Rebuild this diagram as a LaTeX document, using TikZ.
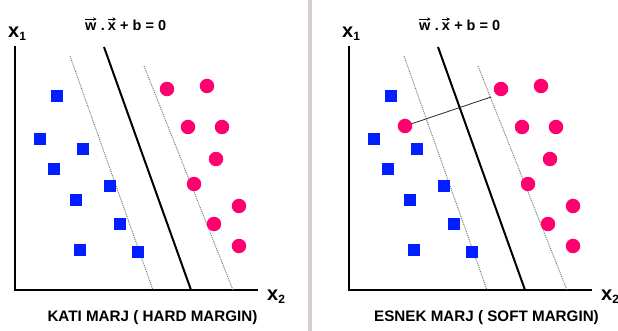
\documentclass[tikz,border=0pt]{standalone}
\usepackage{fontspec}
\setmainfont{Liberation Sans}
\usetikzlibrary{arrows.meta}
\definecolor{sqblue}{RGB}{0,30,255}
\definecolor{dotpink}{RGB}{255,0,110}
\definecolor{sepgray}{RGB}{214,204,208}
\begin{document}
\begin{tikzpicture}[x=1pt,y=-1pt,
  sq/.style={rectangle,fill=sqblue,minimum size=12.5pt,inner sep=0pt},
  ci/.style={circle,fill=dotpink,minimum size=14.5pt,inner sep=0pt},
  axisline/.style={line width=1.5pt,black},
  hyper/.style={line width=2pt,black},
  marginline/.style={line width=0.9pt,black!55,dash pattern=on 1pt off 1pt},
  axlbl/.style={inner sep=0pt,font=\bfseries\fontsize{20}{20}\selectfont},
  captiontext/.style={inner sep=0pt,font=\bfseries\fontsize{15.2}{17}\selectfont},
  ttl/.style={inner sep=0pt,font=\bfseries\fontsize{14.5}{16}\selectfont},
  vecarrow/.style={line width=0.6pt,-{Stealth[length=3.5pt,width=3.5pt]}},
  link/.style={line width=0.8pt,black!85}]
\useasboundingbox (0,0) rectangle (618,331);
\fill[white] (0,0) rectangle (618,331);
\fill[sepgray] (308,0) rectangle (312,331);
\foreach \o/\p/\t in {0/L/{KATI MARJ ( HARD MARGIN)},334/R/{ESNEK MARJ ( SOFT MARGIN)}}{
  \begin{scope}[xshift=\o pt]
    \coordinate (\p-o) at (15,290);
    \coordinate (\p-ytop) at (15,46);
    \coordinate (\p-xend) at (258,290);
    \draw[axisline] (\p-ytop) -- (\p-o) -- (\p-xend);
    \node[axlbl,anchor=base west] (\p-x1) at (8,38) {x{\fontsize{12}{12}\selectfont\raisebox{-3pt}{1}}};
    \node[axlbl,anchor=base west] (\p-x2) at (267,300) {x{\fontsize{12}{12}\selectfont\raisebox{-3pt}{2}}};
    \coordinate (\p-ha) at (104,47);
    \coordinate (\p-hb) at (191,290);
    \draw[hyper] (\p-ha) -- (\p-hb);
    \coordinate (\p-ma) at (70,56);
    \coordinate (\p-mb) at (153,290);
    \draw[marginline] (\p-ma) -- (\p-mb);
    \coordinate (\p-na) at (144,66);
    \coordinate (\p-nb) at (233,290);
    \draw[marginline] (\p-na) -- (\p-nb);
    \node[ttl,anchor=base west] (\p-tw) at (85,31) {w};
    \node[ttl,anchor=base west] (\p-tdot) at (\p-tw.base east) {\ .\,};
    \node[ttl,anchor=base west] (\p-tx) at (\p-tdot.base east) {x};
    \node[ttl,anchor=base west] (\p-trest) at (\p-tx.base east) {\ + b = 0};
    \draw[vecarrow] ([yshift=4pt]\p-tw.north west) -- ([yshift=4pt]\p-tw.north east);
    \draw[vecarrow] ([yshift=4pt]\p-tx.north west) -- ([yshift=4pt]\p-tx.north east);
    \node[captiontext,anchor=base] (\p-cap) at (152.5,321) {\t};
    \foreach \x/\y [count=\i] in {57/96,40/139,83/149,54/169,110/186,76/200,120/224,80/250,138/252}
      \node[sq] (\p-s\i) at (\x,\y) {};
    \foreach \x/\y [count=\i] in {167/89,207/86,188/127,222/127,216/159,194/184,239/206,214/224,239/246}
      \node[ci] (\p-c\i) at (\x,\y) {};
  \end{scope}
}
\node[ci] (R-out) at (405,126) {};
\coordinate (R-foot) at (491,97);
\draw[link] (R-out) -- (R-foot);
\end{tikzpicture}
\end{document}
